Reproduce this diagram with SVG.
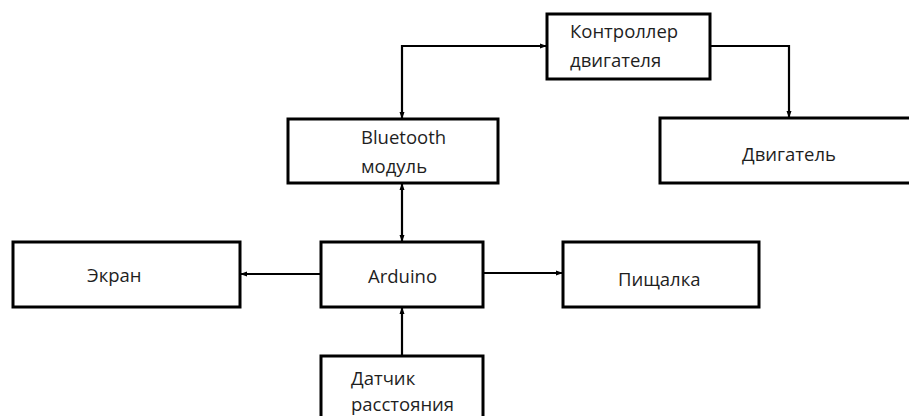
<svg xmlns="http://www.w3.org/2000/svg" width="909" height="416" viewBox="0 0 909 416">
<style>
.box{fill:#fff;stroke:#000;stroke-width:3}
.t{font-family:"Open Sans","Noto Sans",sans-serif;font-size:18.5px;fill:#1e1e1e}
.c{fill:none;stroke:#000;stroke-width:2.2}
</style>
<defs>
<marker id="ah" markerUnits="userSpaceOnUse" markerWidth="7" markerHeight="7" viewBox="0 0 7 7" refX="7" refY="3.5" orient="auto-start-reverse">
<path d="M0,1 L7,3.5 L0,6 Z" fill="#000"/>
</marker>
</defs>
<rect width="909" height="416" fill="#fff"/>
<g id="connectors">
<path class="c" d="M547,46 H402 V119" marker-start="url(#ah)" marker-end="url(#ah)"/>
<path class="c" d="M710,46 H789 V118" marker-end="url(#ah)"/>
<path class="c" d="M402,183 V242" marker-start="url(#ah)" marker-end="url(#ah)"/>
<path class="c" d="M321,274 H240" marker-end="url(#ah)"/>
<path class="c" d="M483,273 H563" marker-end="url(#ah)"/>
<path class="c" d="M402,356 V307" marker-end="url(#ah)"/>
</g>
<g id="controller">
<rect class="box" x="547" y="14" width="163" height="65"/>
<text class="t" x="570" y="38">Контроллер</text>
<text class="t" x="570" y="67">двигателя</text>
</g>
<g id="bluetooth">
<rect class="box" x="288" y="119" width="210" height="64"/>
<text class="t" x="361" y="144">Bluetooth</text>
<text class="t" x="361" y="173">модуль</text>
</g>
<g id="motor">
<rect class="box" x="660" y="118" width="260" height="65"/>
<text class="t" x="742" y="161">Двигатель</text>
</g>
<g id="screen">
<rect class="box" x="13" y="242" width="227" height="65"/>
<text class="t" x="87" y="282">Экран</text>
</g>
<g id="arduino">
<rect class="box" x="321" y="242" width="162" height="65"/>
<text class="t" x="368" y="283">Arduino</text>
</g>
<g id="buzzer">
<rect class="box" x="563" y="242" width="196" height="65"/>
<text class="t" x="618" y="286">Пищалка</text>
</g>
<g id="sensor">
<rect class="box" x="321" y="356" width="162" height="70"/>
<text class="t" x="351" y="385">Датчик</text>
<text class="t" x="351" y="411">расстояния</text>
</g>
</svg>
